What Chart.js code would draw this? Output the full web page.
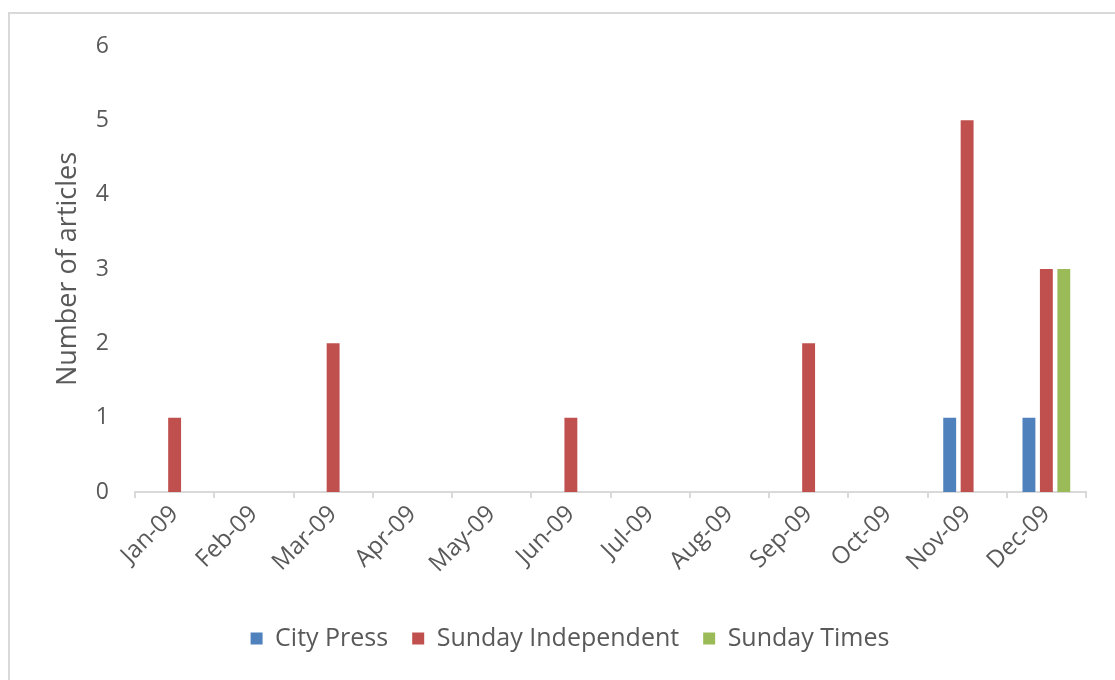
<!DOCTYPE html>
<html>
<head>
<meta charset="utf-8">
<script src="https://cdn.jsdelivr.net/npm/chart.js@4"></script>
<style>
  body { margin: 0; background: #fff; overflow: hidden; }
  #wrap { position: relative; width: 1115px; height: 680px; }
  #frame { position: absolute; left: 8px; top: 12px; width: 1120px; height: 700px; border: 2px solid #d9d9d9; box-sizing: border-box; }
  canvas { position: absolute; left: 0; top: 0; }
</style>
</head>
<body>
<div id="wrap">
  <div id="frame"></div>
  <canvas id="articles" width="1115" height="680"></canvas>
</div>
<script>
// months on the x axis
var months = ['Jan-09', 'Feb-09', 'Mar-09', 'Apr-09', 'May-09', 'Jun-09',
              'Jul-09', 'Aug-09', 'Sep-09', 'Oct-09', 'Nov-09', 'Dec-09'];

// number of articles per paper
var cityPress          = [0, 0, 0, 0, 0, 0, 0, 0, 0, 0, 1, 1];
var sundayIndependent  = [1, 0, 2, 0, 0, 1, 0, 0, 2, 0, 5, 3];
var sundayTimes        = [0, 0, 0, 0, 0, 0, 0, 0, 0, 0, 0, 3];

var yTicks = [0, 1, 2, 3, 4, 5, 6];

var textGrey = '#595959';
var fontName = "'Open Sans', 'DejaVu Sans', sans-serif";

const ctx = document.getElementById('articles').getContext('2d');
const chart = new Chart(ctx, {
    type: 'bar',
    data: {
        labels: months,
        datasets: [
            { label: 'City Press', data: cityPress, backgroundColor: '#4f81bd' },
            { label: 'Sunday Independent', data: sundayIndependent, backgroundColor: '#c0504d' },
            { label: 'Sunday Times', data: sundayTimes, backgroundColor: '#9bbb59' }
        ]
    },
    options: {
        responsive: false,
        animation: false,
        devicePixelRatio: 1,
        // left padding pushes the legend centre to the right, y axis width makes up for it
        layout: { padding: { left: 54, right: 29, top: 46, bottom: 19 } },
        datasets: {
            bar: { categoryPercentage: 0.66, barPercentage: 0.74, borderWidth: 0 }
        },
        plugins: {
            tooltip: { enabled: false },
            legend: {
                position: 'bottom',
                labels: {
                    color: textGrey,
                    font: { family: fontName, size: 25 },
                    boxWidth: 12,
                    boxHeight: 12,
                    padding: 24
                }
            }
        },
        scales: {
            x: {
                afterFit: function(scale) { scale.height = 110; },
                grid: {
                    display: true,
                    drawOnChartArea: false,
                    drawTicks: true,
                    tickLength: 6,
                    color: '#d9d9d9',
                    lineWidth: 2
                },
                border: { display: true, color: '#d9d9d9', width: 2 },
                ticks: {
                    color: textGrey,
                    font: { family: fontName, size: 24 },
                    minRotation: 45,
                    maxRotation: 45,
                    padding: 2
                }
            },
            y: {
                min: 0,
                max: 6,
                afterFit: function(scale) { scale.width = 81; },
                afterBuildTicks: function(scale) {
                    scale.ticks = yTicks.map(function(v) { return { value: v }; });
                },
                grid: { display: false },
                border: { display: false },
                ticks: {
                    color: textGrey,
                    font: { family: fontName, size: 23 },
                    padding: 18
                },
                title: {
                    display: true,
                    text: 'Number of articles',
                    color: textGrey,
                    font: { family: fontName, size: 27, lineHeight: 1 },
                    padding: { top: 1, bottom: 0 }
                }
            }
        }
    }
});
</script>
</body>
</html>
